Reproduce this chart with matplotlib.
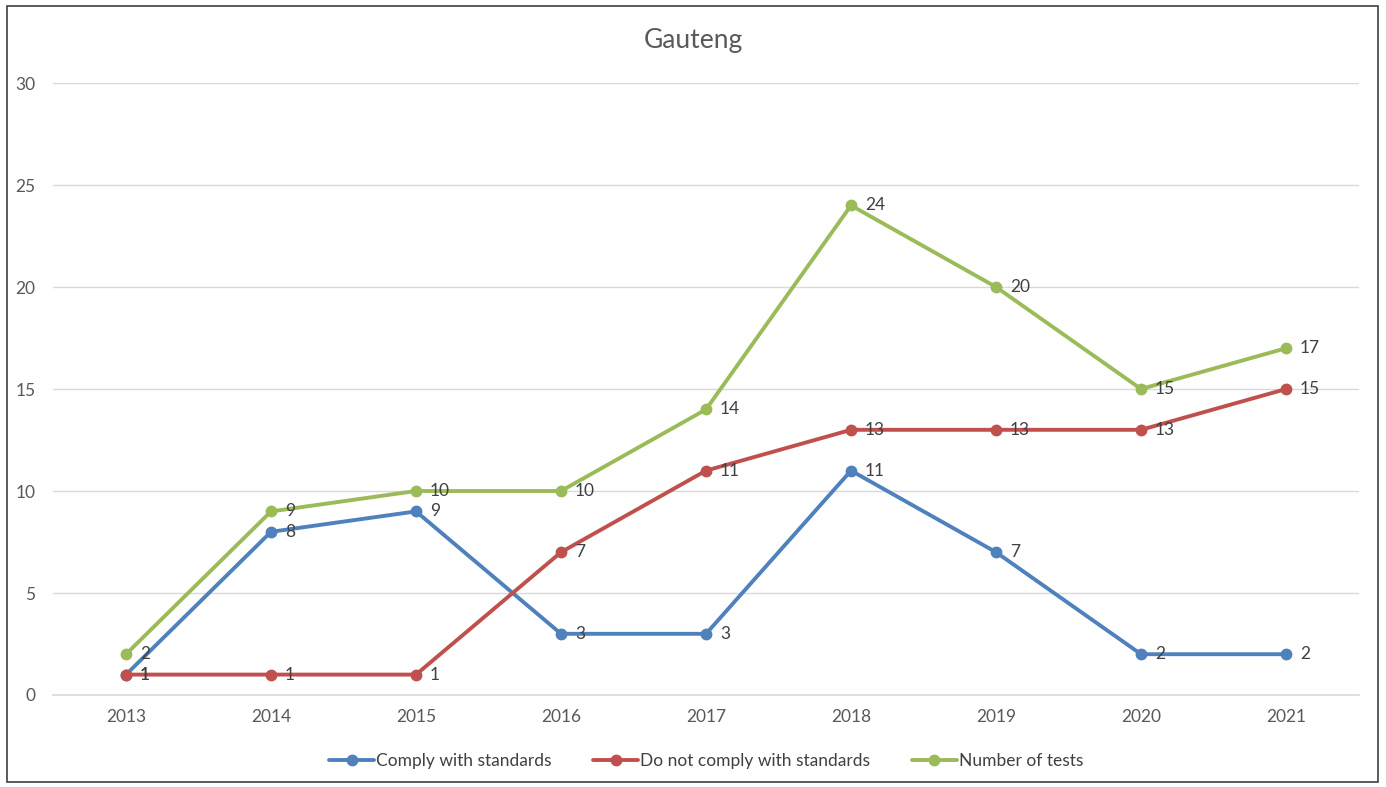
import matplotlib.pyplot as plt
from matplotlib.patches import Rectangle

years = [2013, 2014, 2015, 2016, 2017, 2018, 2019, 2020, 2021]
comply = [1, 8, 9, 3, 3, 11, 7, 2, 2]
not_comply = [1, 1, 1, 7, 11, 13, 13, 13, 15]
tests = [2, 9, 10, 10, 14, 24, 20, 15, 17]

names = ["Comply with standards", "Do not comply with standards", "Number of tests"]
colors = ["#4F81BD", "#C0504D", "#9BBB59"]

plt.rcParams['font.family'] = ['Lato', 'DejaVu Sans']

fig = plt.figure(figsize=(13.86, 7.87), dpi=100)
ax = fig.add_axes([0.0386, 0.1169, 0.9416, 0.7776])

x = list(range(len(years)))
for vals, name, col in zip([comply, not_comply, tests], names, colors):
    ax.plot(x, vals, color=col, lw=2.8, marker='o', ms=7.5, label=name,
            solid_capstyle='round', zorder=3)
    for xi, v in zip(x, vals):
        ax.annotate(str(v), (xi, v), xytext=(10, 0), textcoords='offset points',
                    va='center', ha='left', fontsize=12.5, color='#404040', zorder=4)

ax.set_xlim(-0.5, len(years) - 0.5)
ax.set_ylim(0, 30)
ax.set_yticks(range(0, 31, 5))
ax.set_xticks(x)
ax.set_xticklabels([str(y) for y in years])
ax.grid(axis='y', color='#D9D9D9', lw=1)
ax.axhline(0, color='#D9D9D9', lw=1.2, clip_on=False, zorder=1)
ax.set_axisbelow(True)
for s in ax.spines.values():
    s.set_visible(False)
ax.tick_params(length=0, colors='#595959', labelsize=12.5)
ax.tick_params(axis='y', pad=13)
ax.tick_params(axis='x', pad=10)

fig.suptitle("Gauteng", y=0.965, fontsize=19, color='#595959')

ax.legend(loc='upper center', bbox_to_anchor=(0.5, -0.07), ncol=3, frameon=False,
          fontsize=12.5, handlelength=2.6, handletextpad=0.1, columnspacing=2.4,
          labelcolor='#404040')

fig.patches.append(Rectangle((0.005, 0.006), 0.989, 0.986, transform=fig.transFigure,
                             fill=False, edgecolor='#404040', lw=1.2))

fig.savefig("out.png", dpi=100)
